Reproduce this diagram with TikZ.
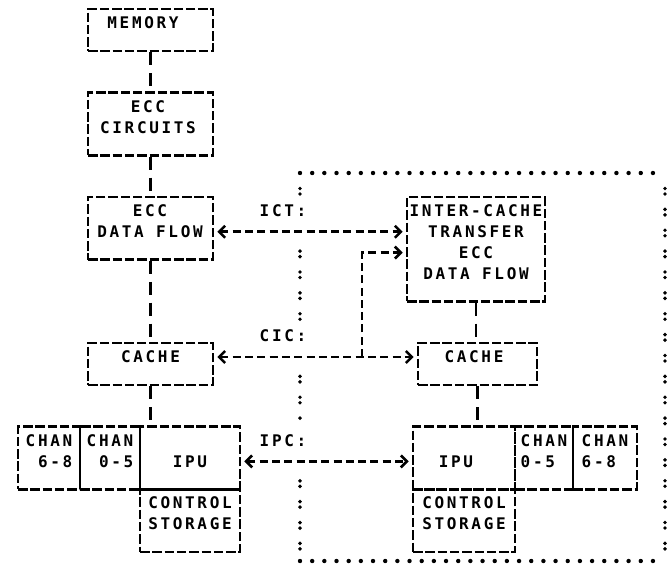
\documentclass[tikz,border=0pt]{standalone}
\usepackage{fontspec}
\usetikzlibrary{arrows.meta,positioning,calc}
\newfontfamily\printer[LetterSpace=16.7]{DejaVu Sans Mono}

\begin{document}
\begin{tikzpicture}[
  x=1pt, y=-1pt,
  every node/.style={font=\printer\bfseries\fontsize{16pt}{20.875pt}\selectfont},
  blockbox/.style={draw, line width=2.6pt, dash pattern=on 9.5pt off 2.8pt, inner sep=0pt},
  lbl/.style={align=center, inner sep=0pt},
  vlink/.style={line width=2.6pt, dash pattern=on 13pt off 7.9pt},
  hlink/.style={line width=2.6pt, dash pattern=on 8pt off 4.3pt, shorten <=3pt, shorten >=3pt},
  rim/.style={line width=4.4pt, line cap=round, dash pattern=on 0pt off 12.17pt},
  colons/.style={line width=3.9pt, line cap=round, dash pattern=on 0pt off 5.5pt on 0pt off 15.375pt},
  >={Straight Barb[length=6pt,width=12pt]}
]
\useasboundingbox (0,0) rectangle (672,570);

% local processor
\node[blockbox, minimum width=125pt, minimum height=41.8pt] (memory) at (150.5,30) {};
\node[lbl] (memorytxt) at (143,23) {MEMORY};
\node[blockbox, minimum width=125pt, minimum height=62.7pt] (circuits) at (150.5,124) {};
\node[lbl] (circuitstxt) at (148,117) {ECC\\CIRCUITS};
\node[blockbox, minimum width=125pt, minimum height=62.6pt] (eccflow) at (150.5,228.3) {};
\node[lbl] (eccflowtxt) at (150,221.3) {ECC\\DATA FLOW};
\node[blockbox, minimum width=125pt, minimum height=41.8pt] (cachel) at (150.5,364) {};
\node[lbl] (cacheltxt) at (150.5,357) {CACHE};

\node[blockbox, minimum width=62pt, minimum height=62.7pt] (chanhil) at (49,458) {};
\node[lbl, align=right] (chanhiltxt) at (49,451) {CHAN\\6-8};
\node[blockbox, minimum width=60pt, minimum height=62.7pt] (chanlol) at (110,458) {};
\node[lbl, align=right] (chanloltxt) at (110,451) {CHAN\\0-5};
\node[blockbox, minimum width=100pt, minimum height=62.7pt] (ipul) at (190,458) {};
\node[lbl] (ipultxt) at (190,461.4) {IPU};
\node[blockbox, minimum width=100pt, minimum height=62.6pt] (storel) at (190,520.6) {};
\node[lbl] (storeltxt) at (190,513.6) {CONTROL\\STORAGE};

% remote processor
\node[blockbox, minimum width=138pt, minimum height=104.4pt] (ict) at (476,249.2) {};
\node[lbl] (icttxt) at (476,242.2) {INTER-CACHE\\TRANSFER\\ECC\\DATA FLOW};
\node[blockbox, minimum width=119pt, minimum height=41.8pt] (cacher) at (477.5,364) {};
\node[lbl] (cachertxt) at (474,357) {CACHE};

\node[blockbox, minimum width=102pt, minimum height=62.7pt] (ipur) at (464,458) {};
\node[lbl] (ipurtxt) at (456,461.4) {IPU};
\node[blockbox, minimum width=58pt, minimum height=62.7pt] (chanlor) at (544,458) {};
\node[lbl, align=left] (chanlortxt) at (544,451) {CHAN\\0-5};
\node[blockbox, minimum width=64pt, minimum height=62.7pt] (chanhir) at (605,458) {};
\node[lbl, align=left] (chanhirtxt) at (605,451) {CHAN\\6-8};
\node[blockbox, minimum width=102pt, minimum height=62.6pt] (storer) at (464,520.6) {};
\node[lbl] (storertxt) at (464,513.6) {CONTROL\\STORAGE};

% bus labels
\node[lbl] (ictlbl) at (283,210.9) {ICT:};
\node[lbl] (ciclbl) at (283,336.1) {CIC:};
\node[lbl] (ipclbl) at (283,440.5) {IPC:};

% vertical links
\draw[vlink] (memory) -- (circuits);
\draw[vlink] (circuits) -- (eccflow);
\draw[vlink] (eccflow) -- (cachel);
\draw[vlink] (cachel.south) -- (cachel.south |- ipul.north);
\draw[vlink] (ict.south) -- (ict.south |- cacher.north);
\draw[vlink] (cacher.south) -- (cacher.south |- ipur.north);

% buses
\draw[hlink, <->] ([yshift=-3.45pt]eccflow.east) -- ([yshift=-3.45pt]eccflow.east -| ict.west);
\draw[hlink, <->] ([yshift=7pt]cachel.east) -- ([yshift=7pt]cacher.west);
\coordinate (cicjoin) at (362,357);
\draw[hlink, ->, shorten <=0pt] (cicjoin) |- ([yshift=-3.4pt]ict.west);
\draw[hlink, <->] ([yshift=-3.4pt]ipul.east) -- ([yshift=-3.4pt]ipur.west);

% dotted frame round the remote side
\coordinate (rimnw) at (300,173);
\coordinate (rimne) at (665,173);
\coordinate (rimsw) at (300,561);
\coordinate (rimse) at (665,561);
\draw[rim] (rimnw) -- (rimne);
\draw[rim] (rimsw) -- (rimse);
\draw[colons] ([yshift=-15.5pt]rimne) -- (rimse);
\draw[colons] ([yshift=-15.5pt]rimnw) -- ++(0,6);
\draw[colons] (300,251.1) -- (300,319.3);
\draw[colons] (300,376.4) -- (300,423.6);
\draw[colons] (300,480.8) -- (rimsw);

\end{tikzpicture}
\end{document}
